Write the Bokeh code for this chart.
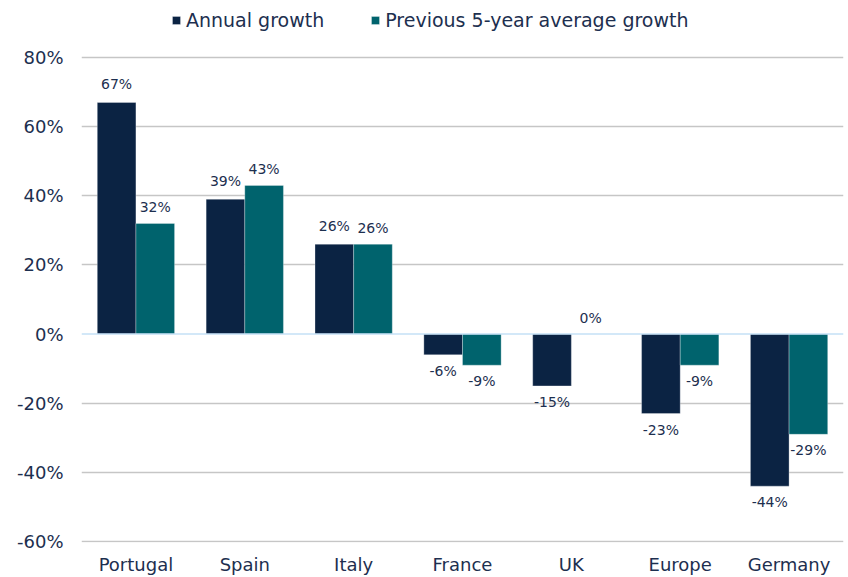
from bokeh.plotting import figure
from bokeh.models import (ColumnDataSource, FactorRange, Range1d, FixedTicker,
                          PrintfTickFormatter, LabelSet, Legend, LegendItem, Span)
from bokeh.core.properties import value
from bokeh.transform import dodge
from bokeh.embed import file_html
from bokeh.resources import INLINE

categories = ["Portugal", "Spain", "Italy", "France", "UK", "Europe", "Germany"]
annual_growth = [67, 39, 26, -6, -15, -23, -44]
prev5_growth = [32, 43, 26, -9, 0, -9, -29]
y_ticks = [-60, -40, -20, 0, 20, 40, 60, 80]

NAVY = "#0b2343"
TEAL = "#00636d"
TEXT = "#1d2f4f"
FONT = "DejaVu Sans"

def fmt(v):
    return f"{v}%"

src_a = ColumnDataSource(dict(
    cat=categories, val=annual_growth,
    lab=[fmt(v) for v in annual_growth],
    off=[18 if v >= 0 else -16 for v in annual_growth]))
src_p = ColumnDataSource(dict(
    cat=categories, val=prev5_growth,
    lab=[fmt(v) for v in prev5_growth],
    off=[16 if v >= 0 else -16 for v in prev5_growth]))

# frame spans the full height; the top of the y range leaves room for the legend
p = figure(width=848, height=577, x_range=FactorRange(*categories),
           y_range=Range1d(-60.3, 96.5), output_backend="svg", toolbar_location=None,
           min_border_left=81, min_border_right=5, min_border_top=0,
           min_border_bottom=34)
p.outline_line_color = None
p.background_fill_color = "white"

bw = 0.355
ra = p.vbar(x=dodge("cat", -bw / 2, range=p.x_range), top="val", bottom=0, width=bw,
            source=src_a, fill_color=NAVY, line_color="white", line_width=0.5, line_alpha=0.6)
rp = p.vbar(x=dodge("cat", bw / 2, range=p.x_range), top="val", bottom=0, width=bw,
            source=src_p, fill_color=TEAL, line_color="white", line_width=0.5, line_alpha=0.6)

zero = Span(location=0, dimension="width", line_color="#c4e1f6", line_width=1.5)
p.add_layout(zero)

for src, dx in ((src_a, -bw / 2), (src_p, bw / 2)):
    ls = LabelSet(x=dodge("cat", dx, range=p.x_range), y="val", text="lab",
                  y_offset="off", source=src, text_align="center",
                  text_baseline="middle", text_font_size="14px",
                  text_color=TEXT, text_font=value(FONT))
    p.add_layout(ls)

p.yaxis.ticker = FixedTicker(ticks=y_ticks)
p.yaxis.formatter = PrintfTickFormatter(format="%d%%")
for ax in (p.xaxis[0], p.yaxis[0]):
    ax.axis_line_color = None
    ax.major_tick_line_color = None
    ax.minor_tick_line_color = None
    ax.major_tick_out = 0
    ax.major_tick_in = 0
    ax.minor_tick_out = 0
    ax.minor_tick_in = 0
    ax.axis_label_standoff = 0
    ax.major_label_text_font = FONT
    ax.major_label_text_font_size = "18px"
    ax.major_label_text_color = TEXT
p.yaxis.major_label_standoff = 18
p.xaxis.major_label_standoff = 11

p.xgrid.grid_line_color = None
p.ygrid.grid_line_color = "#c6c6c6"
p.ygrid.grid_line_width = 1.5
p.ygrid.ticker = FixedTicker(ticks=[t for t in y_ticks if t != 0])

legend = Legend(items=[LegendItem(label="Annual growth", renderers=[ra]),
                       LegendItem(label="Previous 5-year average growth", renderers=[rp])],
                orientation="horizontal", location=(90, 511),
                glyph_width=10, glyph_height=10, label_standoff=5, spacing=46,
                padding=0, margin=0, border_line_color=None,
                background_fill_alpha=0,
                label_text_font=FONT, label_text_font_size="19px",
                label_text_color=TEXT)
p.add_layout(legend, "center")

open("out.html", "w").write(file_html(p, INLINE))
